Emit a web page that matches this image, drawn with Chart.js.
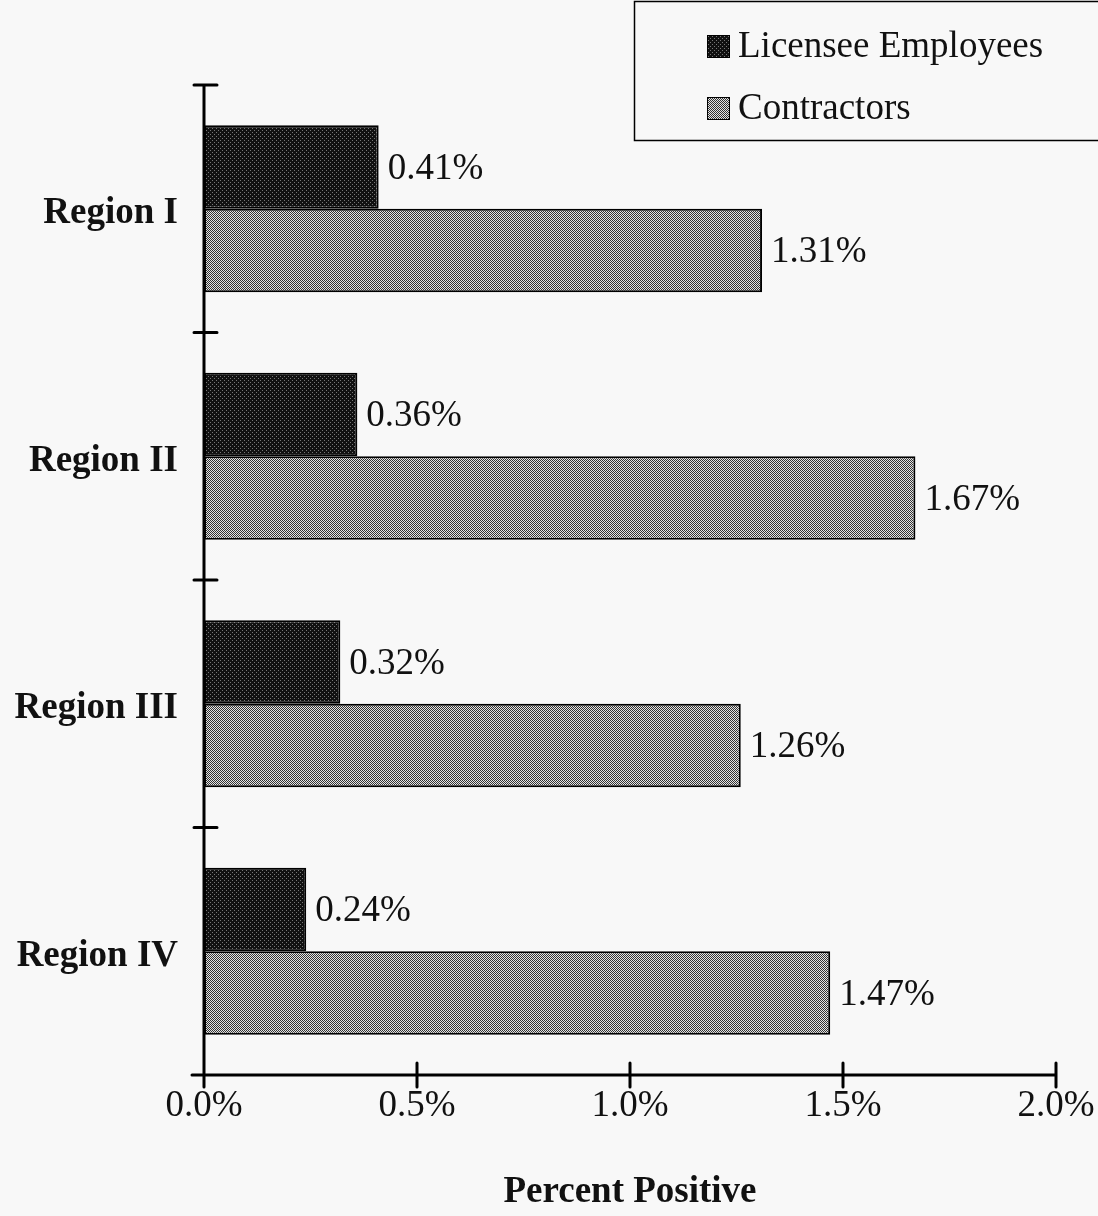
<!DOCTYPE html>
<html>
<head>
<meta charset="utf-8">
<script src="https://cdn.jsdelivr.net/npm/chart.js@4.4.1/dist/chart.umd.min.js"></script>
<style>
  html, body { margin: 0; padding: 0; background: #f8f8f8; }
  #wrap { width: 1098px; height: 1216px; position: relative; }
</style>
</head>
<body>
<div id="wrap"><canvas id="drugChart"></canvas></div>
<script>
const regions = ['Region I', 'Region II', 'Region III', 'Region IV'];
const licenseeEmployees = [0.41, 0.36, 0.32, 0.24];
const contractors = [1.31, 1.67, 1.26, 1.47];
const xTicks = [0, 0.5, 1.0, 1.5, 2.0];

const SERIF = '"Liberation Serif", "Times New Roman", serif';

const ctx = document.getElementById('drugChart').getContext('2d');

// small bitmap fills, like the old halftone bar shading
function makePattern(size, draw) {
    const c = document.createElement('canvas');
    c.width = size; c.height = size;
    const g = c.getContext('2d');
    draw(g);
    return ctx.createPattern(c, 'repeat');
}

const darkFill = makePattern(4, g => {
    g.fillStyle = '#111';
    g.fillRect(0, 0, 4, 4);
    g.fillStyle = '#777';
    g.fillRect(0, 0, 1, 1);
    g.fillRect(2, 2, 1, 1);
});

const checkFill = makePattern(2, g => {
    g.fillStyle = '#e4e4e4';
    g.fillRect(0, 0, 2, 2);
    g.fillStyle = '#333';
    g.fillRect(0, 0, 1, 1);
    g.fillRect(1, 1, 1, 1);
});

// axis lines with ticks crossing them
const axesPlugin = {
    id: 'crossAxes',
    afterDatasetsDraw(chart) {
        const { ctx, scales: { x }, chartArea } = chart;
        ctx.save();
        ctx.strokeStyle = '#000';
        ctx.lineWidth = 3;
        ctx.lineCap = 'round';
        ctx.beginPath();
        ctx.moveTo(chartArea.left, chartArea.top);
        ctx.lineTo(chartArea.left, chartArea.bottom + 10);
        ctx.moveTo(chartArea.left - 12, chartArea.bottom);
        ctx.lineTo(chartArea.right, chartArea.bottom);
        xTicks.forEach(v => {
            const px = x.getPixelForValue(v);
            ctx.moveTo(px, chartArea.bottom - 12);
            ctx.lineTo(px, chartArea.bottom + 12);
        });
        const step = (chartArea.bottom - chartArea.top) / regions.length;
        for (let i = 0; i < regions.length; i++) {
            const py = chartArea.top + i * step;
            ctx.moveTo(chartArea.left - 10, py);
            ctx.lineTo(chartArea.left + 13, py);
        }
        ctx.stroke();
        ctx.restore();
    }
};

// percentage text after each bar
const valueLabels = {
    id: 'valueLabels',
    afterDatasetsDraw(chart) {
        const { ctx } = chart;
        ctx.save();
        ctx.font = '37px ' + SERIF;
        ctx.fillStyle = '#111';
        ctx.textBaseline = 'middle';
        ctx.textAlign = 'left';
        chart.data.datasets.forEach((ds, di) => {
            chart.getDatasetMeta(di).data.forEach((bar, i) => {
                ctx.fillText(ds.data[i].toFixed(2) + '%', bar.x + 9, bar.y + 2);
            });
        });
        ctx.restore();
    }
};

// boxed legend in the upper right corner
const boxLegend = {
    id: 'boxLegend',
    afterDraw(chart) {
        const { ctx } = chart;
        ctx.save();
        ctx.fillStyle = '#f8f8f8';
        ctx.fillRect(634, 1, 470, 140);
        ctx.strokeStyle = '#000';
        ctx.lineWidth = 1.5;
        ctx.strokeRect(634.5, 1.5, 470, 139);
        ctx.font = '37px ' + SERIF;
        ctx.textBaseline = 'middle';
        const rows = [46, 108];
        chart.data.datasets.forEach((ds, i) => {
            ctx.fillStyle = ds.backgroundColor;
            ctx.fillRect(707, rows[i] - 11, 23, 23);
            ctx.strokeStyle = '#000';
            ctx.lineWidth = 1;
            ctx.strokeRect(707.5, rows[i] - 10.5, 22, 22);
            ctx.fillStyle = '#111';
            ctx.fillText(ds.label, 738, rows[i] + 1);
        });
        ctx.restore();
    }
};

new Chart(ctx, {
    type: 'bar',
    data: {
        labels: regions,
        datasets: [{
            label: 'Licensee Employees',
            data: licenseeEmployees,
            backgroundColor: darkFill,
            borderColor: '#000',
            borderWidth: 2,
            borderSkipped: false
        }, {
            label: 'Contractors',
            data: contractors,
            backgroundColor: checkFill,
            borderColor: '#000',
            borderWidth: 2,
            borderSkipped: false
        }]
    },
    options: {
        indexAxis: 'y',
        responsive: true,
        maintainAspectRatio: false,
        animation: false,
        categoryPercentage: 0.675,
        barPercentage: 1,
        layout: { padding: { top: 85, right: 42, left: 6, bottom: 1 } },
        plugins: {
            legend: { display: false },
            tooltip: { enabled: false }
        },
        scales: {
            x: {
                min: 0,
                max: 2,
                afterBuildTicks: s => { s.ticks = xTicks.map(v => ({ value: v })); },
                afterFit: s => {
                    s.height = 140;
                    s.paddingLeft = 0;
                    s.paddingRight = 0;
                },
                grid: { display: false, drawTicks: false },
                border: { display: false },
                ticks: {
                    padding: 9,
                    color: '#111',
                    font: { family: SERIF, size: 37 },
                    callback: v => v.toFixed(1) + '%'
                },
                title: {
                    display: true,
                    text: 'Percent Positive',
                    color: '#111',
                    font: { family: SERIF, size: 37, weight: 'bold' },
                    padding: { top: 0, bottom: 0 }
                }
            },
            y: {
                grid: { display: false, drawTicks: false },
                border: { display: false },
                afterFit: s => { s.width = 198; },
                ticks: {
                    padding: 26,
                    labelOffset: 5,
                    color: '#111',
                    font: { family: SERIF, size: 37, weight: 'bold' }
                }
            }
        }
    },
    plugins: [axesPlugin, valueLabels, boxLegend]
});
</script>
</body>
</html>
